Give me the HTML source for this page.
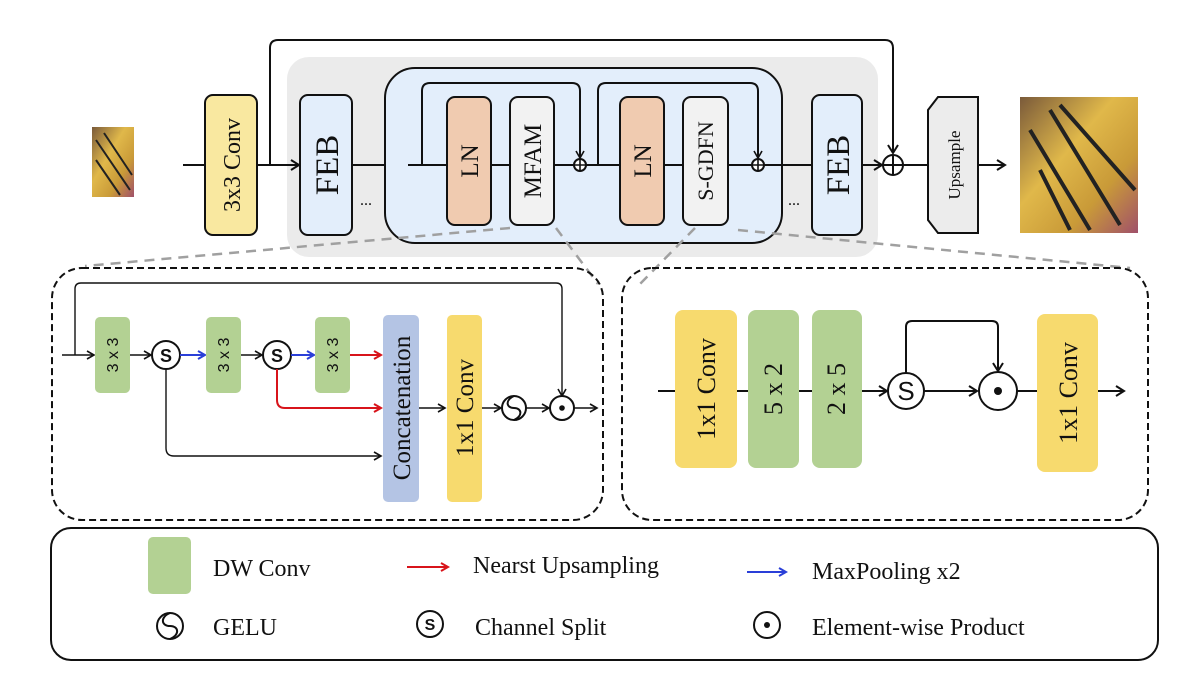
<!DOCTYPE html>
<html><head><meta charset="utf-8"><style>
html,body{margin:0;padding:0;background:#fff;}
svg{display:block;}
text{font-family:"Liberation Serif",serif;fill:#111;}
</style></head><body>
<svg width="1201" height="678" viewBox="0 0 1201 678" xmlns="http://www.w3.org/2000/svg">
<defs>
<marker id="ah" markerWidth="10" markerHeight="10" refX="8" refY="5" orient="auto" markerUnits="userSpaceOnUse"><path d="M1,1 L8,5 L1,9" fill="none" stroke="#111" stroke-width="1.6"/></marker>
<marker id="ahb" markerWidth="12" markerHeight="12" refX="9" refY="6" orient="auto" markerUnits="userSpaceOnUse"><path d="M1,1 L9,6 L1,11" fill="none" stroke="#111" stroke-width="2"/></marker>
<marker id="ahr" markerWidth="10" markerHeight="10" refX="8" refY="5" orient="auto" markerUnits="userSpaceOnUse"><path d="M1,1 L8,5 L1,9" fill="none" stroke="#d8141b" stroke-width="2"/></marker>
<marker id="ahbl" markerWidth="10" markerHeight="10" refX="8" refY="5" orient="auto" markerUnits="userSpaceOnUse"><path d="M1,1 L8,5 L1,9" fill="none" stroke="#2a3fd8" stroke-width="2"/></marker>
<linearGradient id="bf" x1="0" y1="0" x2="1" y2="1"><stop offset="0" stop-color="#7a5a3a"/><stop offset="0.4" stop-color="#e0b84a"/><stop offset="0.7" stop-color="#c99a38"/><stop offset="1" stop-color="#a0506a"/></linearGradient>
</defs>

<path d="M270,165 V48 Q270,40 278,40 H885 Q893,40 893,48 V153" fill="none" stroke="#111" stroke-width="2" marker-end="url(#ahb)"/>
<rect x="287" y="57" width="591" height="200" rx="22" fill="#ebebeb"/>
<rect x="92" y="127" width="42" height="70" fill="url(#bf)"/>
<path d="M96,140 L130,190 M104,133 L132,175 M96,160 L120,195" stroke="#222" stroke-width="2"/>
<line x1="183" y1="165" x2="205" y2="165" stroke="#111" stroke-width="2"/>
<rect x="205" y="95" width="52" height="140" rx="8" fill="#f9e8a0" stroke="#111" stroke-width="2"/>
<text transform="translate(240,165) rotate(-90)" text-anchor="middle" font-size="24">3x3 Conv</text>
<line x1="257" y1="165" x2="299" y2="165" stroke="#111" stroke-width="2" marker-end="url(#ahb)"/>
<rect x="300" y="95" width="52" height="140" rx="8" fill="#e3eefb" stroke="#111" stroke-width="2"/>
<text transform="translate(338,165) rotate(-90)" text-anchor="middle" font-size="33">FEB</text>
<line x1="352" y1="165" x2="385" y2="165" stroke="#111" stroke-width="2"/>
<text x="360" y="205" font-size="16">...</text>
<rect x="385" y="68" width="397" height="175" rx="30" fill="#e3eefb" stroke="#111" stroke-width="2"/>
<line x1="408" y1="165" x2="574" y2="165" stroke="#111" stroke-width="2"/>
<path d="M422,165 V91 Q422,83 430,83 H572 Q580,83 580,91 V158" fill="none" stroke="#111" stroke-width="2" marker-end="url(#ah)"/>
<rect x="447" y="97" width="44" height="128" rx="8" fill="#f0cbb0" stroke="#111" stroke-width="2"/>
<text transform="translate(478,161) rotate(-90)" text-anchor="middle" font-size="25">LN</text>
<rect x="510" y="97" width="44" height="128" rx="8" fill="#f2f2f2" stroke="#111" stroke-width="2"/>
<text transform="translate(541,161) rotate(-90)" text-anchor="middle" font-size="25">MFAM</text>
<circle cx="580" cy="165" r="6" fill="#fff" stroke="#111" stroke-width="2"/>
<path d="M574,165 H586 M580,159 V171" stroke="#111" stroke-width="1.6"/>
<line x1="586" y1="165" x2="752" y2="165" stroke="#111" stroke-width="2"/>
<path d="M598,165 V91 Q598,83 606,83 H750 Q758,83 758,91 V158" fill="none" stroke="#111" stroke-width="2" marker-end="url(#ah)"/>
<rect x="620" y="97" width="44" height="128" rx="8" fill="#f0cbb0" stroke="#111" stroke-width="2"/>
<text transform="translate(651,161) rotate(-90)" text-anchor="middle" font-size="25">LN</text>
<rect x="683" y="97" width="45" height="128" rx="8" fill="#f2f2f2" stroke="#111" stroke-width="2"/>
<text transform="translate(713,161) rotate(-90)" text-anchor="middle" font-size="22">S-GDFN</text>
<circle cx="758" cy="165" r="6" fill="#fff" stroke="#111" stroke-width="2"/>
<path d="M752,165 H764 M758,159 V171" stroke="#111" stroke-width="1.6"/>
<line x1="764" y1="165" x2="812" y2="165" stroke="#111" stroke-width="2"/>
<text x="788" y="205" font-size="16">...</text>
<rect x="812" y="95" width="50" height="140" rx="8" fill="#e3eefb" stroke="#111" stroke-width="2"/>
<text transform="translate(849,165) rotate(-90)" text-anchor="middle" font-size="33">FEB</text>
<line x1="862" y1="165" x2="882" y2="165" stroke="#111" stroke-width="2" marker-end="url(#ahb)"/>
<circle cx="893" cy="165" r="10" fill="#fff" stroke="#111" stroke-width="2"/>
<path d="M883,165 H903 M893,155 V175" stroke="#111" stroke-width="2"/>
<line x1="903" y1="165" x2="928" y2="165" stroke="#111" stroke-width="2"/>
<path d="M938,97 H978 V233 H938 L928,220 V110 Z" fill="#ececec" stroke="#111" stroke-width="2"/>
<text transform="translate(960,165) rotate(-90)" text-anchor="middle" font-size="17">Upsample</text>
<line x1="978" y1="165" x2="1005" y2="165" stroke="#111" stroke-width="2" marker-end="url(#ahb)"/>
<rect x="1020" y="97" width="118" height="136" fill="url(#bf)"/>
<path d="M1030,130 L1090,230 M1050,110 L1120,225 M1040,170 L1070,230 M1060,105 L1135,190" stroke="#222" stroke-width="4"/>

<g stroke="#a0a0a0" stroke-width="2.5" stroke-dasharray="10,7" fill="none">
<line x1="510" y1="228" x2="85" y2="266"/>
<line x1="556" y1="228" x2="598" y2="284"/>
<line x1="695" y1="228" x2="640" y2="284"/>
<line x1="738" y1="230" x2="1130" y2="268"/>
</g>

<rect x="52" y="268" width="551" height="252" rx="30" fill="none" stroke="#111" stroke-width="2" stroke-dasharray="7,4"/>
<line x1="62" y1="355" x2="94" y2="355" stroke="#111" stroke-width="1.4" marker-end="url(#ah)"/>
<path d="M75,355 V289 Q75,283 81,283 H556 Q562,283 562,289 V396" fill="none" stroke="#111" stroke-width="1.4" marker-end="url(#ah)"/>
<rect x="95" y="317" width="35" height="76" rx="5" fill="#b3d193"/>
<text transform="translate(118,355) rotate(-90)" text-anchor="middle" font-size="16" style="font-family:'Liberation Sans',sans-serif">3 x 3</text>
<line x1="130" y1="355" x2="151" y2="355" stroke="#111" stroke-width="1.4" marker-end="url(#ah)"/>
<circle cx="166" cy="355" r="14" fill="#fff" stroke="#111" stroke-width="2"/>
<text x="166" y="362" text-anchor="middle" font-size="18" font-weight="bold" style="font-family:'Liberation Sans',sans-serif">S</text>
<line x1="180" y1="355" x2="205" y2="355" stroke="#2a3fd8" stroke-width="2" marker-end="url(#ahbl)"/>
<rect x="206" y="317" width="35" height="76" rx="5" fill="#b3d193"/>
<text transform="translate(229,355) rotate(-90)" text-anchor="middle" font-size="16" style="font-family:'Liberation Sans',sans-serif">3 x 3</text>
<line x1="241" y1="355" x2="262" y2="355" stroke="#111" stroke-width="1.4" marker-end="url(#ah)"/>
<circle cx="277" cy="355" r="14" fill="#fff" stroke="#111" stroke-width="2"/>
<text x="277" y="362" text-anchor="middle" font-size="18" font-weight="bold" style="font-family:'Liberation Sans',sans-serif">S</text>
<line x1="291" y1="355" x2="314" y2="355" stroke="#2a3fd8" stroke-width="2" marker-end="url(#ahbl)"/>
<rect x="315" y="317" width="35" height="76" rx="5" fill="#b3d193"/>
<text transform="translate(338,355) rotate(-90)" text-anchor="middle" font-size="16" style="font-family:'Liberation Sans',sans-serif">3 x 3</text>
<line x1="350" y1="355" x2="381" y2="355" stroke="#d8141b" stroke-width="2" marker-end="url(#ahr)"/>
<path d="M277,369 V400 Q277,408 285,408 H381" fill="none" stroke="#d8141b" stroke-width="2" marker-end="url(#ahr)"/>
<path d="M166,369 V448 Q166,456 174,456 H381" fill="none" stroke="#111" stroke-width="1.4" marker-end="url(#ah)"/>
<rect x="383" y="315" width="36" height="187" rx="5" fill="#b4c4e4"/>
<text transform="translate(410,408) rotate(-90)" text-anchor="middle" font-size="25">Concatenation</text>
<line x1="419" y1="408" x2="445" y2="408" stroke="#111" stroke-width="1.4" marker-end="url(#ah)"/>
<rect x="447" y="315" width="35" height="187" rx="5" fill="#f7da6e"/>
<text transform="translate(473,408) rotate(-90)" text-anchor="middle" font-size="25">1x1 Conv</text>
<line x1="482" y1="408" x2="501" y2="408" stroke="#111" stroke-width="1.4" marker-end="url(#ah)"/>
<circle cx="514" cy="408" r="12" fill="#fff" stroke="#111" stroke-width="2"/>
<path d="M514,396 C505,400 506,408 514,408 C522,408 523,416 514,420" fill="none" stroke="#111" stroke-width="2"/>
<line x1="526" y1="408" x2="549" y2="408" stroke="#111" stroke-width="1.4" marker-end="url(#ah)"/>
<circle cx="562" cy="408" r="12" fill="#fff" stroke="#111" stroke-width="2"/>
<circle cx="562" cy="408" r="2.8" fill="#111"/>
<line x1="574" y1="408" x2="597" y2="408" stroke="#111" stroke-width="1.4" marker-end="url(#ah)"/>

<rect x="622" y="268" width="526" height="252" rx="30" fill="none" stroke="#111" stroke-width="2" stroke-dasharray="7,4"/>
<line x1="658" y1="391" x2="887" y2="391" stroke="#111" stroke-width="2" marker-end="url(#ahb)"/>
<rect x="675" y="310" width="62" height="158" rx="8" fill="#f7da6e"/>
<text transform="translate(715,389) rotate(-90)" text-anchor="middle" font-size="26">1x1 Conv</text>
<rect x="748" y="310" width="51" height="158" rx="8" fill="#b3d193"/>
<text transform="translate(782,389) rotate(-90)" text-anchor="middle" font-size="26">5 x 2</text>
<rect x="812" y="310" width="50" height="158" rx="8" fill="#b3d193"/>
<text transform="translate(845,389) rotate(-90)" text-anchor="middle" font-size="26">2 x 5</text>
<circle cx="906" cy="391" r="18" fill="#fff" stroke="#111" stroke-width="2"/>
<text x="906" y="400" text-anchor="middle" font-size="26" style="font-family:'Liberation Sans',sans-serif">S</text>
<path d="M906,373 V327 Q906,321 912,321 H992 Q998,321 998,327 V371" fill="none" stroke="#111" stroke-width="2" marker-end="url(#ahb)"/>
<line x1="924" y1="391" x2="977" y2="391" stroke="#111" stroke-width="2" marker-end="url(#ahb)"/>
<circle cx="998" cy="391" r="19" fill="#fff" stroke="#111" stroke-width="2"/>
<circle cx="998" cy="391" r="4" fill="#111"/>
<line x1="1017" y1="391" x2="1124" y2="391" stroke="#111" stroke-width="2" marker-end="url(#ahb)"/>
<rect x="1037" y="314" width="61" height="158" rx="8" fill="#f7da6e"/>
<text transform="translate(1077,393) rotate(-90)" text-anchor="middle" font-size="26">1x1 Conv</text>

<rect x="51" y="528" width="1107" height="132" rx="20" fill="none" stroke="#111" stroke-width="2"/>
<rect x="148" y="537" width="43" height="57" rx="5" fill="#b3d193"/>
<text x="213" y="576" font-size="24">DW Conv</text>
<line x1="407" y1="567" x2="448" y2="567" stroke="#d8141b" stroke-width="2" marker-end="url(#ahr)"/>
<text x="473" y="573" font-size="24">Nearst Upsampling</text>
<line x1="747" y1="572" x2="786" y2="572" stroke="#2a3fd8" stroke-width="2" marker-end="url(#ahbl)"/>
<text x="812" y="579" font-size="24">MaxPooling x2</text>
<circle cx="170" cy="626" r="13" fill="#fff" stroke="#111" stroke-width="2"/>
<path d="M170,613 C160,617 161,626 170,626 C179,626 180,635 170,639" fill="none" stroke="#111" stroke-width="2"/>
<text x="213" y="635" font-size="24">GELU</text>
<circle cx="430" cy="624" r="13" fill="#fff" stroke="#111" stroke-width="2"/>
<text x="430" y="630" text-anchor="middle" font-size="16" font-weight="bold" style="font-family:'Liberation Sans',sans-serif">S</text>
<text x="475" y="635" font-size="24">Channel Split</text>
<circle cx="767" cy="625" r="13" fill="#fff" stroke="#111" stroke-width="2"/>
<circle cx="767" cy="625" r="3" fill="#111"/>
<text x="812" y="635" font-size="24">Element-wise Product</text>
</svg>
</body></html>
